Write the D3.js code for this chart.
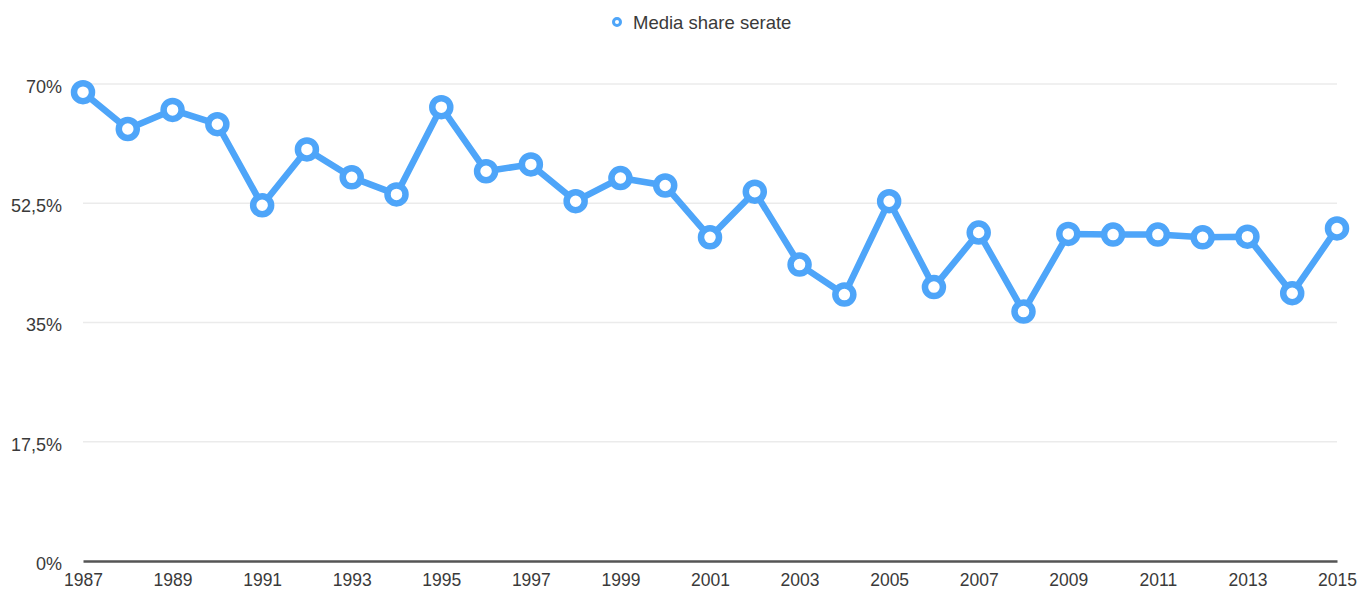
<!DOCTYPE html>
<html><head><meta charset="utf-8">
<script src="https://cdn.jsdelivr.net/npm/d3@7"></script>
<style>body{margin:0;background:#fff;}svg{display:block;font-family:"Liberation Sans",Arial,sans-serif;}</style>
</head><body><svg id="c" width="1370" height="590"></svg>
<script>
const years = [1987,1988,1989,1990,1991,1992,1993,1994,1995,1996,1997,1998,1999,2000,2001,2002,2003,2004,2005,2006,2007,2008,2009,2010,2011,2012,2013,2014,2015];
const values = [68.8,63.4,66.2,64.1,52.2,60.4,56.3,53.8,66.6,57.2,58.2,52.8,56.2,55.1,47.5,54.2,43.5,39.1,52.8,40.2,48.2,36.6,48.0,47.9,47.9,47.5,47.6,39.3,48.8];
const seriesName = "Media share serate";
const yTicks = [0,17.5,35,52.5,70];
const yTickLabels = ["0%","17,5%","35%","52,5%","70%"];
const xTicks = years.filter((y,i)=>i%2===0);

const svg = d3.select("#c");
const color = "#4ea5f9";
const font = "'Liberation Sans',Arial,sans-serif";
const x = d3.scaleLinear().domain([1987,2015]).range([83,1337]);
const y = d3.scaleLinear().domain([0,70]).range([561,84]);

// gridlines
svg.append("g").selectAll("line").data(yTicks.filter(d=>d>0)).join("line")
  .attr("x1",83).attr("x2",1337).attr("y1",d=>y(d)).attr("y2",d=>y(d))
  .attr("stroke","#ebebeb").attr("stroke-width",1.5);

// y axis labels
const ya = svg.append("g").attr("transform","translate(62,2)")
  .call(d3.axisLeft(y).tickValues(yTicks).tickSize(0).tickPadding(0).tickFormat((d,i)=>yTickLabels[i]));
ya.select(".domain").remove();
ya.selectAll("text").attr("font-size",18).attr("fill","#3a3a3a").attr("font-family",font).attr("dy","0.36em");

// x axis
const xa = svg.append("g").attr("transform","translate(0,561)")
  .call(d3.axisBottom(x).tickValues(xTicks).tickSize(0).tickPadding(0).tickFormat(d3.format("d")));
xa.select(".domain").attr("stroke","#555").attr("stroke-width",2.5);
xa.selectAll("text").attr("font-size",17.5).attr("fill","#3a3a3a").attr("font-family",font).attr("dy",null).attr("y",24.5);

// line
const data = years.map((yr,i)=>({yr, v:values[i]}));
svg.append("path").datum(data)
  .attr("d", d3.line().x(d=>x(d.yr)).y(d=>y(d.v)))
  .attr("fill","none").attr("stroke",color).attr("stroke-width",6.5).attr("stroke-linejoin","round");

svg.append("g").selectAll("circle").data(data).join("circle")
  .attr("cx",d=>x(d.yr)).attr("cy",d=>y(d.v)).attr("r",9)
  .attr("fill","#fff").attr("stroke",color).attr("stroke-width",6.5);

// legend
const lg = svg.append("g");
lg.append("circle").attr("cx",617).attr("cy",22).attr("r",3.5).attr("fill","#fff").attr("stroke",color).attr("stroke-width",3);
lg.append("text").attr("x",633).attr("y",29).attr("font-size",18.5).attr("fill","#3a3a3a").attr("font-family",font).text(seriesName);
</script></body></html>
